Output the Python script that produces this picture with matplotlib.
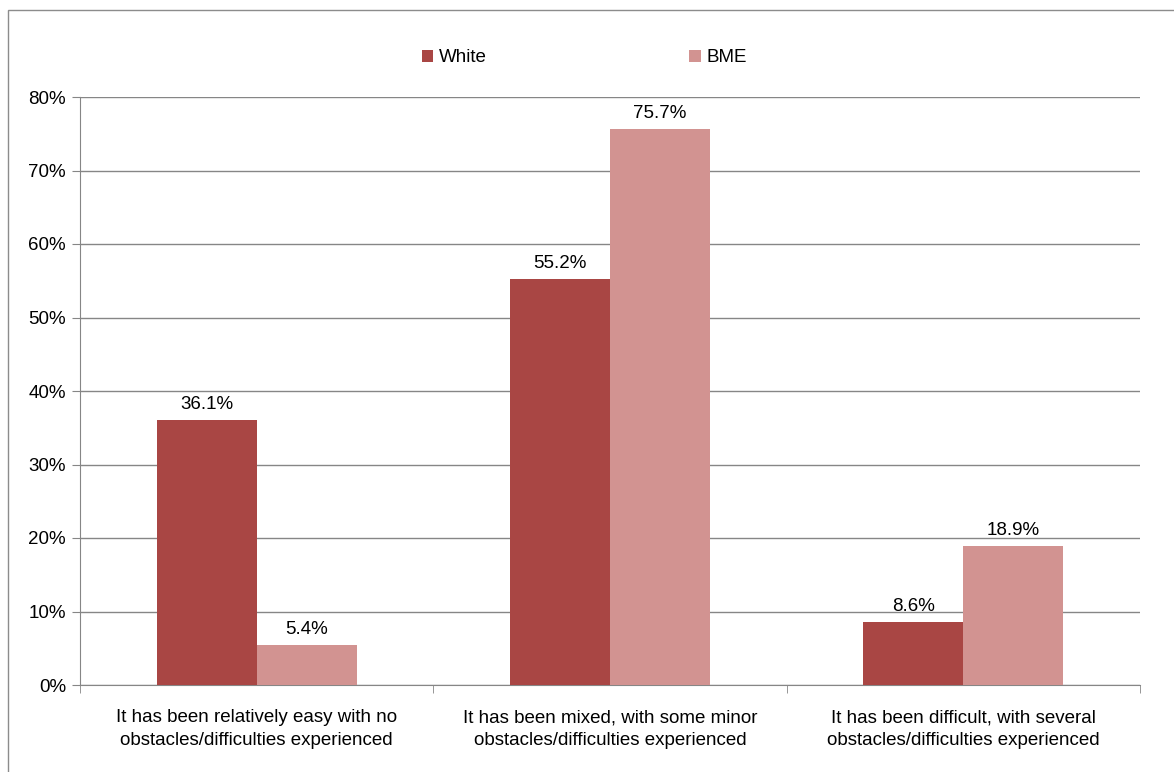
import numpy as np
import matplotlib.pyplot as plt
from matplotlib.patches import Rectangle

# --- data ---
categories = [
    "It has been relatively easy with no\nobstacles/difficulties experienced",
    "It has been mixed, with some minor\nobstacles/difficulties experienced",
    "It has been difficult, with several\nobstacles/difficulties experienced",
]
white_vals = [36.1, 55.2, 8.6]
bme_vals = [5.4, 75.7, 18.9]
series_names = ["White", "BME"]
yticks = [0, 10, 20, 30, 40, 50, 60, 70, 80]

plt.rcParams["font.family"] = ["Liberation Sans", "DejaVu Sans"]
fs = 13.5

fig = plt.figure(figsize=(11.74, 7.72), dpi=100)
ax = fig.add_axes([80 / 1174, 1 - 685 / 772, 1060 / 1174, 588 / 772])

# outer chart border (only left + top visible in the crop)
fig.patches.append(Rectangle((8 / 1174, -0.1), 1.2, 1.1 - 10 / 772,
                             transform=fig.transFigure, fill=False,
                             edgecolor="#8c8c8c", linewidth=1.0, zorder=0))

x = np.arange(len(categories))
w = 0.283
c_white = "#A94644"
c_bme = "#D29391"

b1 = ax.bar(x - w / 2, white_vals, w, color=c_white, label=series_names[0], zorder=3)
b2 = ax.bar(x + w / 2, bme_vals, w, color=c_bme, label=series_names[1], zorder=3)

for bars, vals in [(b1, white_vals), (b2, bme_vals)]:
    for r, v in zip(bars, vals):
        ax.annotate(f"{v:.1f}%", (r.get_x() + r.get_width() / 2, v),
                    xytext=(0, 5), textcoords="offset points",
                    ha="center", va="bottom", fontsize=fs, color="#000000")

ax.set_xlim(-0.5, 2.5)
ax.set_ylim(0, 80)
ax.set_yticks(yticks)
ax.set_yticklabels([f"{t}%" for t in yticks], fontsize=fs)
ax.yaxis.grid(True, color="#868686", linewidth=1.0, zorder=0)
ax.set_axisbelow(True)

ax.set_xticks(x)
ax.set_xticklabels(categories, fontsize=fs, linespacing=1.45)
ax.tick_params(axis="x", length=0, pad=17.5)
ax.set_xticks([-0.5, 0.5, 1.5, 2.5], minor=True)
ax.tick_params(axis="x", which="minor", length=6, color="#868686", direction="out")
ax.tick_params(axis="y", length=6, color="#868686", pad=4)

for s in ["top", "right"]:
    ax.spines[s].set_visible(False)
ax.spines["left"].set_color("#868686")
ax.spines["bottom"].set_color("#868686")

ax.legend(loc="upper center", bbox_to_anchor=(0.476, 1.11), ncol=2, frameon=False,
          fontsize=fs, handlelength=0.6, handleheight=0.6, handletextpad=0.3,
          columnspacing=10.8)

fig.savefig("out.png", dpi=100)
